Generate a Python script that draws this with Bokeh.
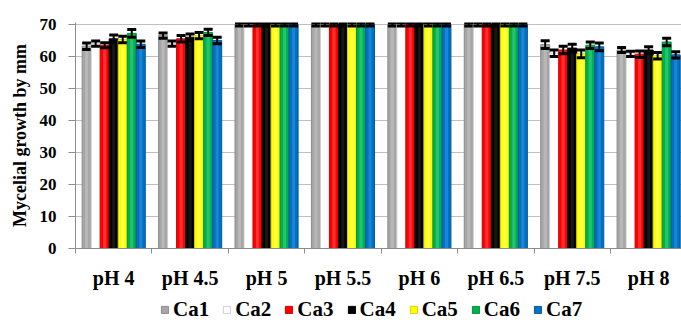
from bokeh.plotting import figure
from bokeh.layouts import column
from bokeh.models import (Range1d, FixedTicker, Legend, LegendItem, ColumnDataSource)
from bokeh.embed import file_html
from bokeh.resources import INLINE

categories = ["pH 4", "pH 4.5", "pH 5", "pH 5.5", "pH 6", "pH 6.5", "pH 7.5", "pH 8"]
series = ["Ca1", "Ca2", "Ca3", "Ca4", "Ca5", "Ca6", "Ca7"]
ca1 = [63.2, 66.5, 70, 70, 70, 70, 63.7, 62.0]
ca2 = [64.0, 64.0, 70, 70, 70, 70, 61.0, 60.8]
ca3 = [63.5, 65.5, 70, 70, 70, 70, 62.0, 60.7]
ca4 = [65.5, 66.0, 70, 70, 70, 70, 62.6, 62.0]
ca5 = [65.3, 66.5, 70, 70, 70, 70, 60.8, 60.2]
ca6 = [67.2, 67.5, 70, 70, 70, 70, 63.5, 64.5]
ca7 = [63.8, 65.0, 70, 70, 70, 70, 63.0, 60.5]
err1 = [1.0, 0.8, 0.5, 0.5, 0.5, 0.5, 1.2, 0.8]
err2 = [0.8, 0.8, 0.5, 0.5, 0.5, 0.5, 1.0, 0.8]
err3 = [0.8, 1.0, 0.5, 0.5, 0.5, 0.5, 1.2, 1.0]
err4 = [1.2, 1.0, 0.5, 0.5, 0.5, 0.5, 1.2, 1.0]
err5 = [1.0, 1.0, 0.5, 0.5, 0.5, 0.5, 1.2, 1.0]
err6 = [1.2, 1.0, 0.5, 0.5, 0.5, 0.5, 1.0, 1.2]
err7 = [1.0, 1.0, 0.5, 0.5, 0.5, 0.5, 1.2, 1.0]

values = [ca1, ca2, ca3, ca4, ca5, ca6, ca7]
errors = [err1, err2, err3, err4, err5, err6, err7]
colors = ["#a6a6a6", "#ffffff", "#ff0000", "#000000", "#ffff00", "#00b050", "#0070c0"]
edges = ["#8c8c8c", "#d0d0d0", "#d00000", "#000000", "#d8d800", "#00903f", "#005a9e"]
highlights = ["#c4c4c4", "#ffffff", "#ff5050", "#262626", "#ffff80", "#40d080", "#3090e0"]

FONT = "Liberation Serif"
BW = 0.118

p = figure(width=681, height=294, output_backend="svg", toolbar_location=None,
           x_range=Range1d(0, 7.93), y_range=Range1d(0, 70.6),
           min_border_left=75, min_border_right=0, min_border_top=22, min_border_bottom=46)
p.outline_line_color = None
p.background_fill_color = "white"

for j, s in enumerate(series):
    xs = [i + 0.5 + (j - 3) * BW for i in range(len(categories))]
    src = ColumnDataSource(dict(x=xs, top=values[j],
                                up=[v + e for v, e in zip(values[j], errors[j])],
                                lo=[v - e for v, e in zip(values[j], errors[j])]))
    p.vbar(x="x", top="top", width=BW, bottom=0, source=src,
           fill_color=colors[j], line_color=edges[j], line_width=1)
    p.vbar(x="x", top="top", width=BW * 0.35, bottom=0, source=src,
           fill_color=highlights[j], line_color=None, fill_alpha=0.6)
    p.segment(x0="x", x1="x", y0="lo", y1="up", source=src, line_color="black", line_width=2)
    p.rect(x="x", y="up", width=BW, height=3, height_units="screen", source=src,
           fill_color="black", line_color=None)
    p.rect(x="x", y="lo", width=BW, height=3, height_units="screen", source=src,
           fill_color="black", line_color=None)

# y axis
p.yaxis.ticker = FixedTicker(ticks=[0, 10, 20, 30, 40, 50, 60, 70])
p.yaxis.axis_line_color = "#8c8c8c"
p.yaxis.major_tick_line_color = "#8c8c8c"
p.yaxis.major_tick_out = 7
p.yaxis.major_tick_in = 0
p.yaxis.minor_tick_line_color = None
p.yaxis.major_label_text_font = FONT
p.yaxis.major_label_text_font_style = "bold"
p.yaxis.major_label_text_font_size = "17px"
p.yaxis.major_label_text_color = "black"
p.yaxis.major_label_standoff = 12
p.yaxis.axis_label = "Mycelial growth by mm"
p.yaxis.axis_label_text_font = FONT
p.yaxis.axis_label_text_font_style = "bold"
p.yaxis.axis_label_text_font_size = "18px"
p.yaxis.axis_label_text_color = "black"
p.yaxis.axis_label_standoff = 7

# x axis
centers = [i + 0.5 for i in range(len(categories))]
p.xaxis.ticker = FixedTicker(ticks=centers, minor_ticks=list(range(len(categories) + 1)))
p.xaxis.major_label_overrides = {c: lab for c, lab in zip(centers, categories)}
p.xaxis.axis_line_color = "#8c8c8c"
p.xaxis.major_tick_line_color = None
p.xaxis.major_tick_out = 0
p.xaxis.minor_tick_line_color = "#8c8c8c"
p.xaxis.minor_tick_out = 5
p.xaxis.minor_tick_in = 0
p.xaxis.major_label_text_font = FONT
p.xaxis.major_label_text_font_style = "bold"
p.xaxis.major_label_text_font_size = "20px"
p.xaxis.major_label_text_color = "black"
p.xaxis.major_label_standoff = 13

p.xgrid.grid_line_color = None
p.ygrid.ticker = FixedTicker(ticks=[10, 20, 30, 40, 50, 60, 70])
p.ygrid.grid_line_color = "#bfbfbf"

# legend strip
p2 = figure(width=681, height=30, output_backend="svg", toolbar_location=None,
            x_range=Range1d(0, 1), y_range=Range1d(0, 1),
            min_border_left=0, min_border_right=0, min_border_top=0, min_border_bottom=0)
p2.axis.visible = False
p2.grid.visible = False
p2.outline_line_color = None
items = []
for j, s in enumerate(series):
    r = p2.vbar(x=[-5], top=[-5], bottom=[-6], width=0.1,
                fill_color=colors[j], line_color=edges[j])
    items.append(LegendItem(label=s, renderers=[r]))
legend = Legend(items=items, orientation="horizontal", location=(85, 2),
                glyph_width=9, glyph_height=9, label_standoff=4, spacing=13,
                padding=0, margin=0, border_line_color=None, background_fill_alpha=0,
                label_text_font=FONT, label_text_font_style="bold",
                label_text_font_size="21px", label_text_color="black", label_height=21)
p2.add_layout(legend, "center")

layout = column(p, p2, spacing=0)
open("out.html", "w").write(file_html(layout, INLINE))
